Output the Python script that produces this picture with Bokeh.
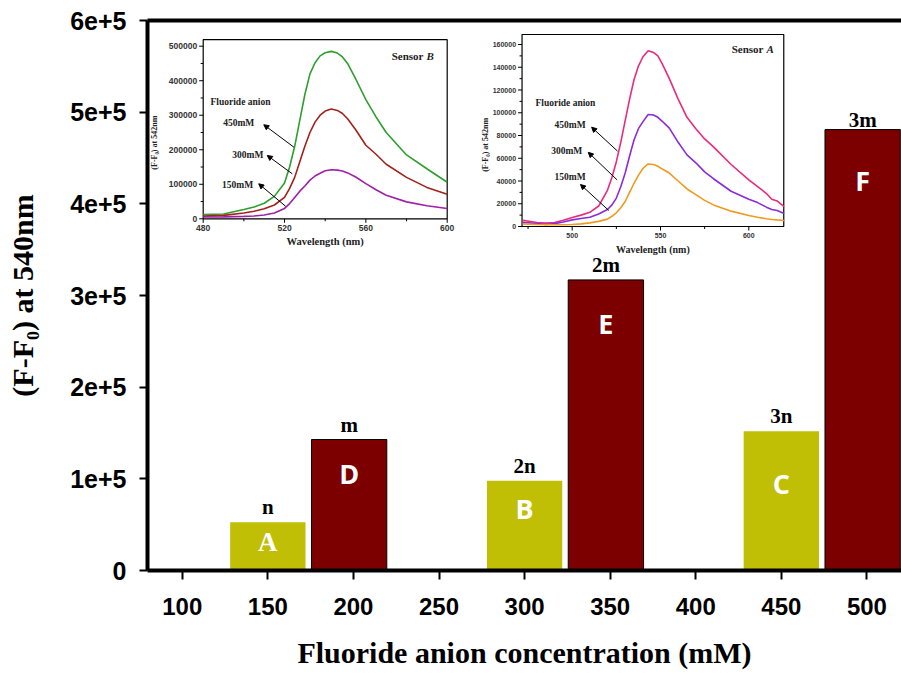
import numpy as np
from bokeh.plotting import figure
from bokeh.models import Range1d, LinearAxis, FixedTicker, Arrow, NormalHead
from bokeh.core.properties import value
from bokeh.embed import file_html
from bokeh.resources import INLINE

# ---------------- main bar data ----------------
conc_n = [150, 300, 450]
vals_n = [52700, 97900, 152000]
tags_n = ["n", "2n", "3n"]
letters_n = ["A", "B", "C"]
letter_y_n = [31000, 67300, 95000]

conc_m = [197.5, 347.5, 497.5]
vals_m = [142900, 317000, 481000]
tags_m = ["m", "2m", "3m"]
letters_m = ["D", "E", "F"]
letter_y_m = [105500, 269500, 425500]

x_ticks = [100, 150, 200, 250, 300, 350, 400, 450, 500]
y_ticks = [0, 100000, 200000, 300000, 400000, 500000, 600000]
y_tick_labels = ["0", "1e+5", "2e+5", "3e+5", "4e+5", "5e+5", "6e+5"]

# ---------------- inset: Sensor B ----------------
wl_B = [480, 490, 500, 505, 510, 515, 520, 522.5, 525, 527.5, 530, 532.5, 535,
        537.5, 540, 543, 546, 548.5, 551, 555, 560, 565, 570, 580, 590, 600]
B_450 = [12500, 14000, 27000, 34000, 45000, 65000, 104000, 150000, 210000, 285000,
         360000, 420000, 452000, 472000, 481000, 485000, 480000, 469000, 450000,
         405000, 345000, 295000, 250000, 185000, 145000, 106000]
B_300 = [7700, 10000, 17000, 22000, 29000, 40000, 62000, 88000, 120000, 165000,
         210000, 250000, 280000, 300000, 312000, 318000, 314000, 305000, 290000,
         258000, 213000, 187000, 158000, 120000, 91000, 71000]
B_150 = [5000, 5500, 7000, 8000, 11000, 17000, 30000, 44000, 62000, 80000,
         95000, 112000, 124000, 132000, 139000, 142000, 141000, 138500, 133000,
         121000, 102000, 84000, 68000, 49000, 38000, 30000]
B_xmajor = [480, 520, 560, 600]
B_xminor = [500, 540, 580]
B_ymajor = [0, 100000, 200000, 300000, 400000, 500000]
B_yminor = [50000, 150000, 250000, 350000, 450000]

# ---------------- inset: Sensor A ----------------
wl_A = [472, 480, 485, 490, 495, 500, 505, 510, 515, 520, 522.5, 525, 527.5, 530,
        532.5, 535, 537.5, 540, 543, 546, 548.5, 551, 555, 560, 565, 570, 575, 580,
        590, 600, 605, 610, 613, 616, 620]
A_450 = [5500, 3500, 3000, 3500, 5500, 8000, 10000, 12500, 18000, 32000, 43000,
         57000, 74000, 93000, 112000, 129000, 141000, 149000, 154500, 153000,
         150000, 143000, 130000, 112000, 96000, 86000, 77000, 70000, 54500, 41000,
         35000, 29000, 24000, 22500, 17500]
A_300 = [3800, 2500, 1800, 2500, 4000, 5800, 7000, 8200, 11000, 15000, 19000,
         25000, 35000, 47000, 62000, 76000, 86000, 92000, 98500, 98000, 96000,
         92500, 86500, 74000, 63000, 56000, 48000, 42000, 31000, 24000, 21000,
         17000, 15000, 14000, 11500]
A_150 = [2300, 1800, 1600, 1500, 1600, 1800, 2300, 3200, 4500, 6500, 9000, 12000,
         16500, 22000, 30000, 38000, 45000, 51000, 55000, 54500, 53000, 50500,
         47000, 40000, 33000, 28000, 23000, 19000, 13500, 9700, 8200, 6800, 6200,
         5800, 5300]
A_xmajor = [500, 550, 600]
A_xminor = [475, 525, 575]
A_ymajor = [0, 20000, 40000, 60000, 80000, 100000, 120000, 140000, 160000]
A_yminor = [10000, 30000, 50000, 70000, 90000, 110000, 130000, 150000]

conc_labels = ["450mM", "300mM", "150mM"]

# ---------------- layout constants (page pixels) ----------------
W, H = 901, 675
FL, FR, FT, FB = 147, 901, 20, 570  # main frame edges on page

X0, X1 = 79.7, 520.2

p = figure(width=W, height=H, x_range=Range1d(X0, X1), y_range=Range1d(0, 600000),
           output_backend="svg", toolbar_location=None,
           min_border_left=FL, min_border_right=W - FR,
           min_border_top=FT, min_border_bottom=H - FB)
p.xgrid.visible = False
p.ygrid.visible = False
p.outline_line_color = None
p.background_fill_color = "white"
p.border_fill_color = "white"

p.xaxis.ticker = FixedTicker(ticks=x_ticks)
p.yaxis.ticker = FixedTicker(ticks=y_ticks)
p.yaxis.major_label_overrides = {t: l for t, l in zip(y_ticks, y_tick_labels)}

for ax in (p.xaxis[0], p.yaxis[0]):
    ax.axis_line_width = 4
    ax.axis_line_color = "black"
    ax.major_tick_line_width = 2
    ax.major_tick_line_color = "black"
    ax.major_tick_in = 0
    ax.minor_tick_in = 0
    ax.minor_tick_out = 0
    ax.major_label_text_font = "Liberation Sans"
    ax.major_label_text_font_style = "bold"
    ax.major_label_text_color = "black"
    ax.axis_label_text_font = "Liberation Serif"
    ax.axis_label_text_font_style = "bold"
    ax.axis_label_text_color = "black"
    ax.axis_label_text_font_size = "30px"

p.yaxis.major_tick_out = 8
p.yaxis.major_label_standoff = 13
p.yaxis.major_label_text_font_size = "25px"
p.yaxis.axis_label = "(F-F\u2080) at 540nm"
p.yaxis.axis_label_standoff = 28

p.xaxis.major_tick_out = 9
p.xaxis.major_label_standoff = 18
p.xaxis.major_label_text_font_size = "24px"
p.xaxis.axis_label = "Fluoride anion concentration (mM)"
p.xaxis.axis_label_standoff = 18

top_axis = LinearAxis(ticker=FixedTicker(ticks=[]), axis_line_width=4,
                      axis_line_color="black", major_tick_out=0, major_tick_in=0,
                      minor_tick_out=0, minor_tick_in=0,
                      major_label_text_font_size="0px")
p.add_layout(top_axis, "above")

# ---------------- bars ----------------
p.vbar(x=conc_n, top=vals_n, width=44, fill_color="#C0BE05", line_color=None)
p.vbar(x=conc_m, top=vals_m, width=44, fill_color="#7C0000", line_color="black",
       line_width=1)

serif = value("Liberation Serif")
sans = value("Open Sans")

p.text(x=conc_n, y=vals_n, text=tags_n, text_font=serif, text_font_style="bold",
       text_font_size="21px", text_align="center", text_baseline="bottom",
       y_offset=-3, text_color="black")
p.text(x=conc_m, y=vals_m, text=tags_m, text_font=serif, text_font_style="bold",
       text_font_size="21px", text_align="center", text_baseline="bottom",
       y_offset=[-3, -3, 2], text_color="black")

p.text(x=conc_n[:1], y=letter_y_n[:1], text=letters_n[:1], text_font=serif,
       text_font_style="bold", text_font_size="27px", text_align="center",
       text_baseline="middle", text_color="white")
p.text(x=conc_n[1:], y=letter_y_n[1:], text=letters_n[1:], text_font=sans,
       text_font_style="bold", text_font_size="27px", text_align="center",
       text_baseline="middle", text_color="white")
p.text(x=conc_m, y=letter_y_m, text=letters_m, text_font=sans,
       text_font_style="bold", text_font_size="27px", text_align="center",
       text_baseline="middle", text_color="white")


# ---------------- inset helper ----------------
def lin_range(d0, d1, p0, p1, f0, f1):
    k = (d1 - d0) / (p1 - p0)
    return Range1d(d0 + (f0 - p0) * k, d0 + (f1 - p0) * k)


def inset(name, xr, yr, xmaj, xmin_, ymaj, ymin_, ylabels, tick_size,
          xlab_size, curves, colors, texts):
    xn, yn = name + "x", name + "y"
    (xa, xb, pxa, pxb), (ya, yb, pya, pyb) = xr, yr
    p.extra_x_ranges[xn] = lin_range(xa, xb, pxa, pxb, FL, FR)
    p.extra_y_ranges[yn] = lin_range(ya, yb, pya, pyb, FB, FT)
    kw = dict(x_range_name=xn, y_range_name=yn)
    fx0, fx1, fy0, fy1 = texts["frame"]
    p.quad(left=[fx0], right=[fx1], bottom=[fy0], top=[fy1], fill_color="white",
           line_color="black", line_width=1.2, **kw)
    # ticks
    p.ray(x=[fx0] * len(ymaj), y=ymaj, length=4, length_units="screen",
          angle=np.pi, line_color="black", line_width=1, **kw)
    p.ray(x=[fx0] * len(ymin_), y=ymin_, length=2.5, length_units="screen",
          angle=np.pi, line_color="black", line_width=1, **kw)
    p.ray(x=xmaj, y=[fy0] * len(xmaj), length=4, length_units="screen",
          angle=-np.pi / 2, line_color="black", line_width=1, **kw)
    p.ray(x=xmin_, y=[fy0] * len(xmin_), length=2.5, length_units="screen",
          angle=-np.pi / 2, line_color="black", line_width=1, **kw)
    p.text(x=[fx0] * len(ymaj), y=ymaj, text=ylabels, text_font=value("Liberation Sans"),
           text_font_style="bold", text_font_size=tick_size, text_color="#333333",
           text_align="right", text_baseline="middle", x_offset=-6, **kw)
    p.text(x=xmaj, y=[fy0] * len(xmaj), text=[str(v) for v in xmaj],
           text_font=value("Liberation Sans"), text_font_style="bold",
           text_font_size=tick_size, text_color="#333333", text_align="center",
           text_baseline="top", y_offset=6, **kw)
    # curves
    for (wx, wy), c in zip(curves, colors):
        p.line(x=wx, y=wy, line_color=c, line_width=1.6, **kw)
    # axis titles
    p.text(x=[(fx0 + fx1) / 2], y=[fy0], text=["Wavelength (nm)"], text_font=serif,
           text_font_style="bold", text_font_size=xlab_size, text_color="#222222",
           text_align="center", text_baseline="top", y_offset=texts["xlab_off"], **kw)
    p.text(x=[fx0], y=[(fy0 + fy1) / 2 * 0.85], text=["(F-F\u2080) at 542nm"],
           text_font=serif, text_font_style="bold", text_font_size="8px",
           text_color="#222222", text_align="center", text_baseline="middle",
           angle=np.pi / 2, x_offset=texts["ylab_off"], **kw)
    # sensor title
    sx, sy, sletter = texts["sensor"]
    p.text(x=[sx], y=[sy], text=["Sensor"], text_font=serif, text_font_style="bold",
           text_font_size="11px", text_color="#222222", text_align="right",
           text_baseline="middle", **kw)
    p.text(x=[sx], y=[sy], text=[sletter], text_font=serif,
           text_font_style="bold italic", text_font_size="11px", text_color="#222222",
           text_align="left", text_baseline="middle", x_offset=3, **kw)
    fx, fy = texts["fluoride"]
    p.text(x=[fx], y=[fy], text=["Fluoride anion"], text_font=serif,
           text_font_style="bold", text_font_size="9.5px", text_color="#222222",
           text_align="left", text_baseline="middle", **kw)
    p.text(x=texts["lab_x"], y=texts["lab_y"], text=conc_labels, text_font=serif,
           text_font_style="bold", text_font_size="9.5px", text_color="#222222",
           text_align="left", text_baseline="middle", **kw)
    for (x0, y0, x1, y1) in texts["arrows"]:
        p.add_layout(Arrow(x_start=x0, y_start=y0, x_end=x1, y_end=y1,
                           line_color="black", line_width=1,
                           end=NormalHead(size=5, fill_color="black", line_color="black"),
                           **kw))


# Sensor B inset (left)
inset("B",
      (480, 600, 202.7, 446.7), (0, 500000, 218.3, 45.7),
      B_xmajor, B_xminor, B_ymajor, B_yminor, [str(v) for v in B_ymajor],
      "8.5px", "10.5px",
      [(wl_B, B_450), (wl_B, B_300), (wl_B, B_150)],
      ["#2E9E2E", "#A3211B", "#A020A8"],
      dict(frame=(480, 600, 0, 519000), xlab_off=17, ylab_off=-49,
           sensor=(588.3, 473000, "B"), fluoride=(483.6, 338000),
           lab_x=[489.8, 494.3, 489.3], lab_y=[277000, 183500, 96500],
           arrows=[(524.6, 207500, 509.8, 272500),
                   (523.8, 130400, 511.5, 183500),
                   (520.5, 36500, 507.3, 101400)]))

# Sensor A inset (right)
inset("A",
      (500, 600, 571.7, 748.3), (0, 160000, 226.0, 44.0),
      A_xmajor, A_xminor, A_ymajor, A_yminor, [str(v) for v in A_ymajor],
      "7px", "10px",
      [(wl_A, A_450), (wl_A, A_300), (wl_A, A_150)],
      ["#EC2A7C", "#8A2BDB", "#F09A1E"],
      dict(frame=(471.6, 619.8, 0, 168800), xlab_off=17, ylab_off=-37,
           sensor=(608.3, 156200, "A"), fluoride=(479.2, 108400),
           lab_x=[490.0, 488.1, 490.0], lab_y=[88800, 66800, 43300],
           arrows=[(525.7, 66200, 511.0, 87300),
                   (525.4, 41000, 509.1, 65200),
                   (520.7, 14100, 504.7, 36900)]))

open("out.html", "w").write(file_html(p, INLINE))
